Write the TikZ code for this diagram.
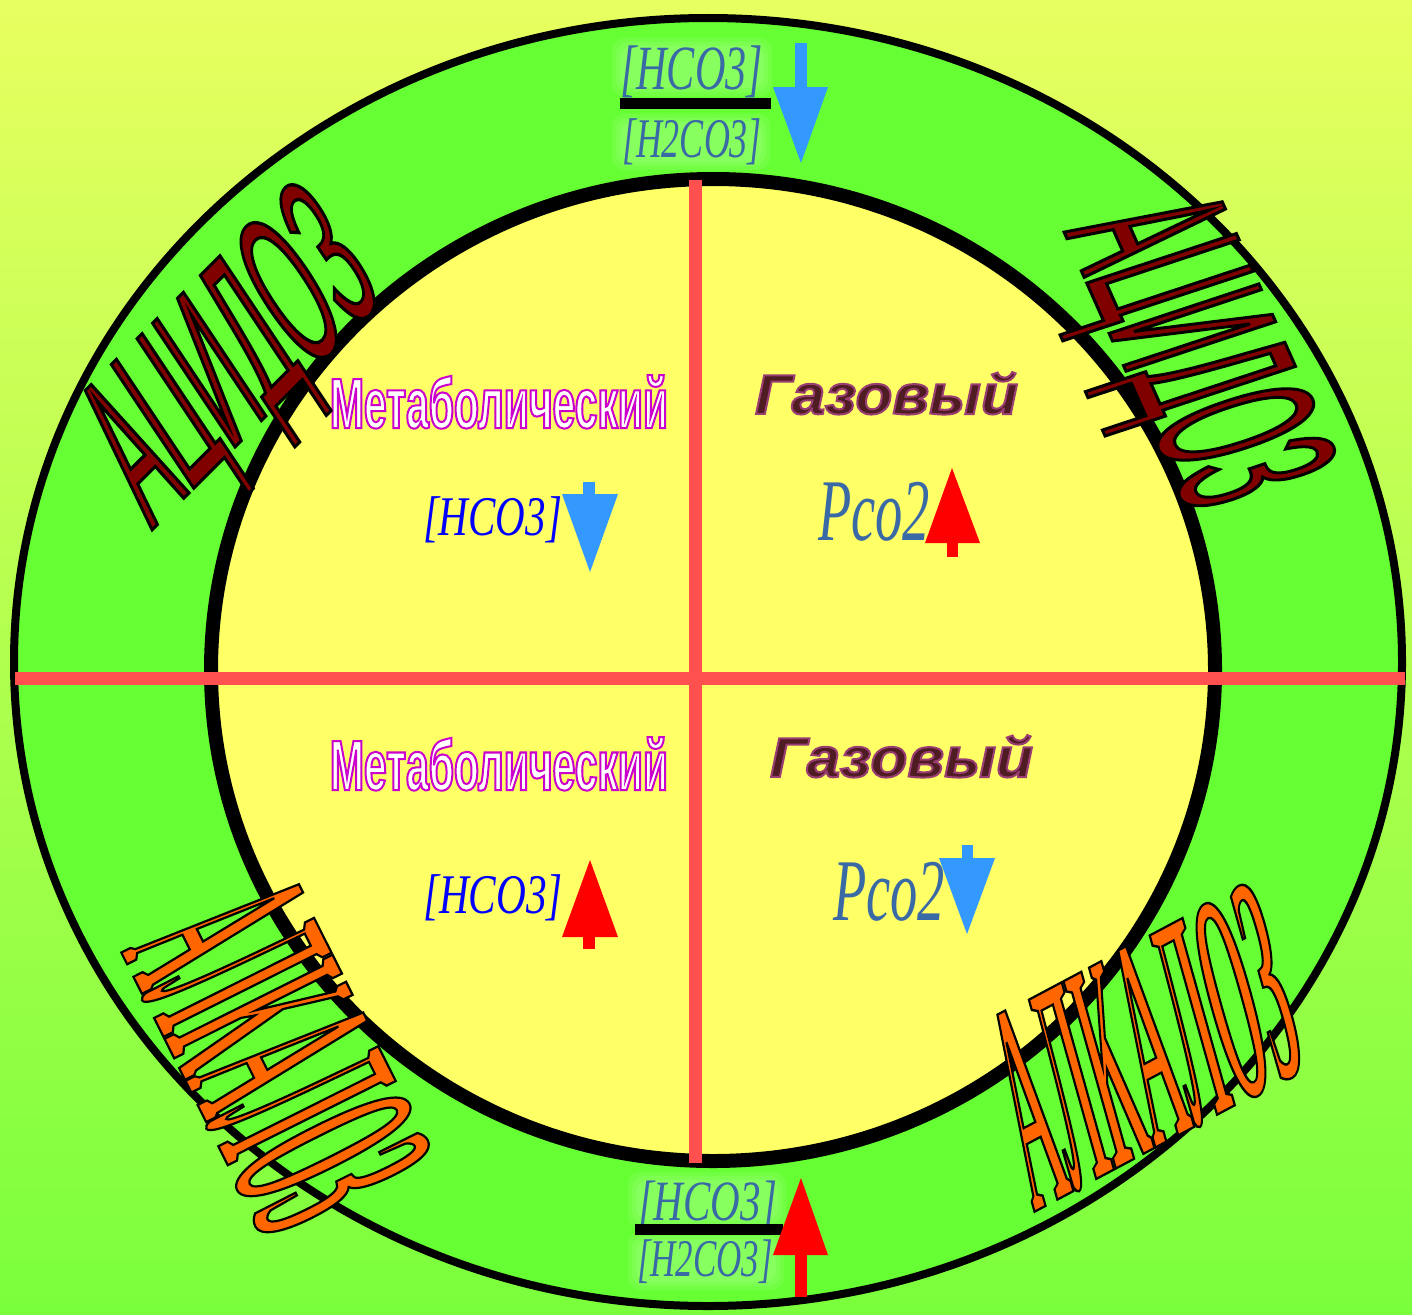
\documentclass[tikz,border=0pt]{standalone}
\usepackage{fontspec}
\setmainfont{Liberation Serif}
\definecolor{bgtop}{RGB}{232,255,96}
\definecolor{bgbot}{RGB}{122,255,60}
\definecolor{ringgreen}{RGB}{102,255,51}
\definecolor{inneryellow}{RGB}{255,255,102}
\definecolor{crossred}{RGB}{255,80,80}
\definecolor{arrblue}{RGB}{51,153,255}
\definecolor{arrred}{RGB}{255,0,0}
\definecolor{acidred}{RGB}{128,0,0}
\definecolor{alkorange}{RGB}{255,102,0}
\definecolor{steel}{RGB}{58,106,165}
\definecolor{gasfill}{RGB}{80,28,36}
\definecolor{hcoblue}{RGB}{0,0,255}
\newlength\wl
% #1 family, #2 shape, #3 size, #4 target width (pt), #5 pdf render literal, #6 text
\newcommand\stext[6]{%
  \settowidth\wl{\fontspec{#1}#2\fontsize{#3}{#3}\selectfont #6}%
  \pgfmathsetmacro\fsx{#4/\wl}%
  \edef\tmpf{\noexpand\fontspec[FakeStretch=\fsx]{#1}}\tmpf #2\fontsize{#3}{#3}\selectfont
  \special{pdf:literal direct #5}#6\special{pdf:literal direct 0 Tr}}
\begin{document}
\begin{tikzpicture}[x=1pt,y=-1pt,
  wa/.style={inner sep=0pt,outer sep=0pt,anchor=base west},
  ringline/.style={draw=black},
  crossline/.style={draw=crossred,line width=13pt},
  glow/.style={fill=white,opacity=0.08,rounded corners=12pt}]
\useasboundingbox (0,0) rectangle (1412,1314);
\fill[top color=bgtop,bottom color=bgbot] (0,0) rectangle (1412,1314);
% rings
\coordinate (oc) at (708,662);
\coordinate (ic) at (713,670);
\draw[ringline,line width=8pt,fill=ringgreen] (oc) ellipse [x radius=694pt,y radius=644pt];
\draw[ringline,line width=14pt,fill=inneryellow] (ic) ellipse [x radius=502pt,y radius=491pt];
% cross
\coordinate (hl) at (15,678);
\coordinate (hr) at (1405,678);
\coordinate (vt) at (695,180);
\coordinate (vb) at (695,1163);
\draw[crossline] (hl) -- (hr);
\draw[crossline] (vt) -- (vb);
% glow behind fractions
\foreach \g in {0,4,8}{
  \fill[glow] (612+\g,38+\g) rectangle (772-\g,96-\g);
  \fill[glow] (612+\g,114+\g) rectangle (770-\g,170-\g);
  \fill[glow] (628+\g,1172+\g) rectangle (786-\g,1228-\g);
  \fill[glow] (628+\g,1232+\g) rectangle (784-\g,1290-\g);}
% top fraction
\node[wa,text=steel] (ft1) at (620,89) {\stext{Liberation Serif}{\itshape}{63}{143}{0 Tr}{[HCO3]}};
\fill[black] (620,98) rectangle (771,109);
\node[wa,text=steel] (ft2) at (622,157) {\stext{Liberation Serif}{\itshape}{56}{140}{0 Tr}{[H2CO3]}};
\fill[arrblue] (795,43) rectangle (807,88);
\fill[arrblue] (773,87) -- (828,87) -- (801,163) -- cycle;
% bottom fraction
\node[wa,text=steel] (fb1) at (638,1220) {\stext{Liberation Serif}{\itshape}{57}{139}{0 Tr}{[HCO3]}};
\fill[black] (635,1224) rectangle (783,1235);
\node[wa,text=steel] (fb2) at (637,1276) {\stext{Liberation Serif}{\itshape}{53}{136}{0 Tr}{[H2CO3]}};
\fill[arrred] (795,1254) rectangle (807,1297);
\fill[arrred] (773,1255) -- (828,1255) -- (801,1178) -- cycle;
% quadrant headings
\node[wa,text=white] (met1) at (330,428) {\stext{Liberation Sans}{\bfseries}{71}{338}{2 Tr 2 w 0.8 0 0.8 RG}{Метаболический}};
\node[wa,text=white] (met2) at (330,790) {\stext{Liberation Sans}{\bfseries}{71}{338}{2 Tr 2 w 0.8 0 0.8 RG}{Метаболический}};
\node[wa,text=gasfill] (gas1) at (755,414) {\stext{Liberation Sans}{\bfseries\itshape}{56}{263}{2 Tr 2 w 0.6 0.24 0.45 RG}{Газовый}};
\node[wa,text=gasfill] (gas2) at (770,777) {\stext{Liberation Sans}{\bfseries\itshape}{56}{263}{2 Tr 2 w 0.6 0.24 0.45 RG}{Газовый}};
% quadrant values
\node[wa,text=hcoblue] (hco1) at (423,535) {\stext{Liberation Serif}{\itshape}{56}{139}{0 Tr}{[HCO3]}};
\fill[arrblue] (583,482) rectangle (595,495);
\fill[arrblue] (562,494) -- (618,494) -- (590,572) -- cycle;
\node[wa,text=steel] (pco1) at (818,540) {\stext{Liberation Serif}{\itshape}{88}{112}{0 Tr}{Pco2}};
\fill[arrred] (947,542) rectangle (958,557);
\fill[arrred] (925,543) -- (980,543) -- (952,468) -- cycle;
\node[wa,text=hcoblue] (hco2) at (423,913) {\stext{Liberation Serif}{\itshape}{56}{140}{0 Tr}{[HCO3]}};
\fill[arrred] (583,936) rectangle (595,949);
\fill[arrred] (562,937) -- (618,937) -- (590,860) -- cycle;
\node[wa,text=steel] (pco2) at (833,920) {\stext{Liberation Serif}{\itshape}{88}{112}{0 Tr}{Pco2}};
\fill[arrblue] (962,845) rectangle (973,859);
\fill[arrblue] (939,858) -- (995,858) -- (967,934) -- cycle;
% word art
\node[wa,rotate=45,xslant=0.2,text=acidred] (acL) at (152,530) {\stext{Liberation Sans}{}{212}{330}{2 Tr 3 w 0 0 0 RG}{АЦИДОЗ}};
\node[wa,rotate=-66,xslant=0.1,text=acidred] (acR) at (1064,232) {\stext{Liberation Sans}{}{228}{312}{2 Tr 3 w 0 0 0 RG}{АЦИДОЗ}};
\node[wa,rotate=-63.4,text=alkorange] (alL) at (121,952) {\stext{Liberation Serif}{\bfseries}{287}{325}{2 Tr 2.2 w 0 0 0 RG}{АЛКАЛОЗ}};
\node[wa,rotate=28,xslant=0.22,text=alkorange] (alR) at (1034,1212) {\stext{Liberation Serif}{\bfseries}{290}{310}{2 Tr 2.2 w 0 0 0 RG}{АЛКАЛОЗ}};
\end{tikzpicture}
\end{document}
